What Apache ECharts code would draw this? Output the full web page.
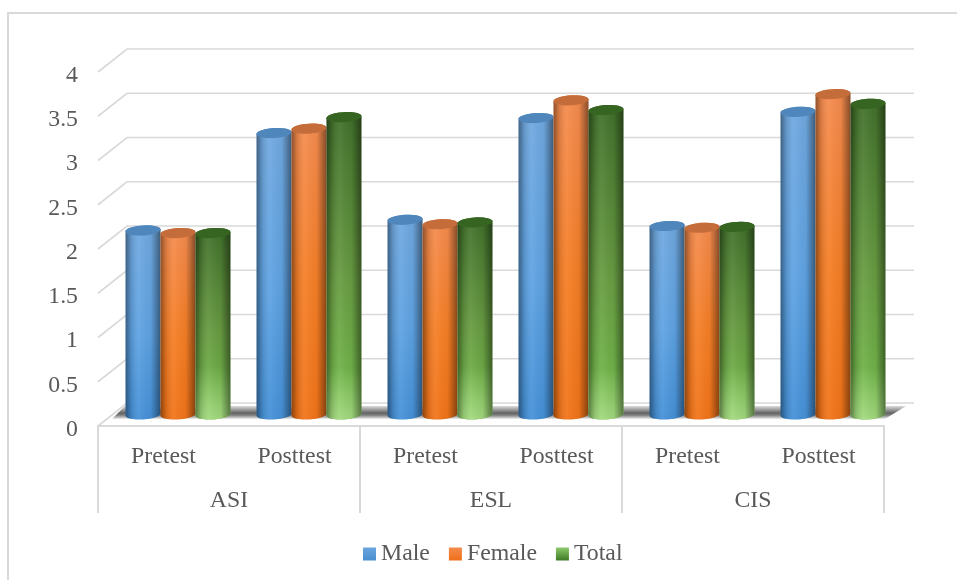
<!DOCTYPE html>
<html>
<head>
    <meta charset="UTF-8">
    <title>Pretest and posttest by gender</title>
    <style>
        html, body { margin: 0; padding: 0; background: #fff; }
        #main { width: 957px; height: 580px; }
    </style>
</head>
<body>
<div id="main"></div>
<script src="https://cdn.jsdelivr.net/npm/echarts@6/dist/echarts.min.js"></script>
<script type="text/javascript">
    // values
    var categories = ['Pretest', 'Posttest', 'Pretest', 'Posttest', 'Pretest', 'Posttest'];
    var groups = ['ASI', 'ESL', 'CIS'];
    var yTicks = [0, 0.5, 1, 1.5, 2, 2.5, 3, 3.5, 4];
    var male = [2.08, 3.18, 2.20, 3.35, 2.13, 3.42];
    var female = [2.05, 3.23, 2.15, 3.55, 2.11, 3.62];
    var total = [2.05, 3.36, 2.17, 3.44, 2.12, 3.51];

    var FONT = 'Liberation Serif';
    var TEXT = '#595959';
    var LINE = '#d9d9d9';
    var FONT_SIZE = 23.8;

    // fake 3d box: depth of the back wall, bars stand half way in
    var DEPTH_X = 29, DEPTH_Y = 23;
    var BAR_RATIO = 0.267;
    var RY = 5, TILT = -3.5 * Math.PI / 180;

    var skins = {
        Male: {legend: ['#6aa5df', '#4a8fd0'], body: ['#71a9e0', '#5fa3e3', '#4591d8'], top: '#4f87bc'},
        Female: {legend: ['#f58b4c', '#ee6f19'], body: ['#f58c50', '#f67f26', '#f27419'], top: '#c56d3a'},
        Total: {legend: ['#8cc96a', '#3f7a25'], body: ['#41702b', '#689c42', '#74bd4c'], top: '#356520', glow: true}
    };

    function ellipsePoints(cx, cy, rx, from, to, n) {
        var pts = [];
        for (var i = 0; i <= n; i++) {
            var a = from + (to - from) * i / n;
            var px = rx * Math.cos(a), py = RY * Math.sin(a);
            pts.push([cx + px * Math.cos(TILT) - py * Math.sin(TILT), cy + px * Math.sin(TILT) + py * Math.cos(TILT)]);
        }
        return pts;
    }

    function linear(horizontal, stops) {
        return new echarts.graphic.LinearGradient(0, 0, horizontal ? 1 : 0, horizontal ? 0 : 1, stops);
    }

    function barRenderer(name, slot) {
        var skin = skins[name];
        return function (params, api) {
            var cell = api.size([1, 0])[0];
            var w = cell * BAR_RATIO;
            var top = api.coord([api.value(0), api.value(1)]);
            var base = api.coord([api.value(0), 0]);
            var cx = top[0] + slot * w + DEPTH_X / 2;
            var topY = top[1] - DEPTH_Y / 2;
            var baseY = base[1] - DEPTH_Y / 2;
            var rx = w / 2;
            // left side of the wall down, round the bottom, back up the right side
            var body = ellipsePoints(cx, topY, rx, Math.PI, 2 * Math.PI, 12)
                .concat(ellipsePoints(cx, baseY, rx, 0, Math.PI, 24));
            var children = [
                {type: 'polygon', shape: {points: body}, style: {
                    fill: linear(false, [
                        {offset: 0, color: skin.body[0]},
                        {offset: 0.55, color: skin.body[1]},
                        {offset: 1, color: skin.body[2]}
                    ])
                }}
            ];
            if (skin.glow) {
                // light patch keeps the same height on short and tall bars
                var glowStart = 1 - 50 / (baseY - topY);
                children.push({type: 'polygon', shape: {points: body}, style: {
                    fill: linear(false, [
                        {offset: glowStart, color: 'rgba(175,225,140,0)'},
                        {offset: 1, color: 'rgba(175,225,140,0.8)'}
                    ])
                }});
            }
            children.push({type: 'polygon', shape: {points: body}, style: {
                fill: linear(true, [
                    {offset: 0, color: 'rgba(0,0,0,0.42)'},
                    {offset: 0.16, color: 'rgba(0,0,0,0.12)'},
                    {offset: 0.38, color: 'rgba(255,255,255,0.06)'},
                    {offset: 0.72, color: 'rgba(0,0,0,0.04)'},
                    {offset: 1, color: 'rgba(0,0,0,0.45)'}
                ])
            }});
            children.push({
                type: 'polygon',
                shape: {points: ellipsePoints(cx, topY, rx, 0, 2 * Math.PI, 36)},
                style: {fill: skin.top}
            });
            return {type: 'group', children: children};
        };
    }

    function wallRenderer(params, api) {
        var box = params.coordSys;
        var p = api.coord([0, api.value(0)]);
        var y = p[1];
        return {
            type: 'polyline',
            shape: {points: [
                [box.x, y],
                [box.x + DEPTH_X, y - DEPTH_Y],
                [box.x + box.width + DEPTH_X + 1, y - DEPTH_Y]
            ]},
            style: {fill: null, stroke: LINE, lineWidth: 1.6}
        };
    }

    function floorShadow(params, api) {
        var box = params.coordSys;
        var y = api.coord([0, 0])[1];
        return {
            type: 'polygon',
            shape: {points: [
                [box.x + 27, y - 20],
                [box.x + box.width + 22, y - 20],
                [box.x + box.width + 1, y - 7],
                [box.x + 14, y - 7]
            ]},
            style: {
                fill: linear(false, [
                    {offset: 0, color: '#dcdcdc'},
                    {offset: 0.55, color: '#626262'},
                    {offset: 0.75, color: '#8c8c8c'},
                    {offset: 1, color: '#f0f0f0'}
                ])
            }
        };
    }

    function barSeries(name, values, slot) {
        return {
            name: name,
            type: 'custom',
            z: 3,
            renderItem: barRenderer(name, slot),
            encode: {x: 0, y: 1},
            itemStyle: {color: skins[name].body[1]},
            data: values.map(function (v, i) { return [i, v]; })
        };
    }

    function legendItem(name) {
        return {
            name: name,
            itemStyle: {color: linear(false, [
                {offset: 0, color: skins[name].legend[0]},
                {offset: 1, color: skins[name].legend[1]}
            ])}
        };
    }

    var myChart = echarts.init(document.getElementById('main'), null, {renderer: 'canvas'});
    var option = {
        animation: false,
        backgroundColor: '#fff',
        textStyle: {fontFamily: FONT, color: TEXT},
        graphic: [
            {type: 'polyline', silent: true, shape: {points: [[8, 580], [8, 13], [957, 13]]},
                style: {fill: null, stroke: LINE, lineWidth: 2}}
        ],
        grid: {left: 98, right: 73, top: 72, bottom: 154},
        legend: {
            left: 358,
            top: 537,
            icon: 'rect',
            itemWidth: 13,
            itemHeight: 13,
            itemGap: 19,
            textStyle: {fontFamily: FONT, fontSize: FONT_SIZE, color: TEXT},
            data: [legendItem('Male'), legendItem('Female'), legendItem('Total')]
        },
        xAxis: [
            {
                type: 'category',
                data: categories,
                axisLine: {show: false},
                axisTick: {show: false},
                axisLabel: {margin: 19, fontFamily: FONT, fontSize: FONT_SIZE, color: TEXT, interval: 0}
            },
            {
                type: 'category',
                data: groups,
                position: 'bottom',
                axisLine: {show: true, lineStyle: {color: LINE, width: 2}},
                axisTick: {show: true, length: 87, lineStyle: {color: LINE, width: 2}},
                axisLabel: {margin: 63, fontFamily: FONT, fontSize: FONT_SIZE, color: TEXT, interval: 0},
                splitLine: {show: false}
            }
        ],
        yAxis: {
            type: 'value',
            min: 0,
            max: 4,
            interval: 0.5,
            axisLine: {show: false},
            axisTick: {show: false},
            splitLine: {show: false},
            axisLabel: {margin: 20, verticalAlign: 'top', lineHeight: 7, fontFamily: FONT, fontSize: FONT_SIZE, color: TEXT}
        },
        series: [
            {type: 'custom', z: 1, silent: true, renderItem: wallRenderer, encode: {y: 0},
                data: yTicks.map(function (t) { return [t]; })},
            {type: 'custom', z: 2, silent: true, renderItem: floorShadow, data: [[0]]},
            barSeries('Male', male, -1),
            barSeries('Female', female, 0),
            barSeries('Total', total, 1)
        ]
    };
    myChart.setOption(option);
</script>
</body>
</html>
